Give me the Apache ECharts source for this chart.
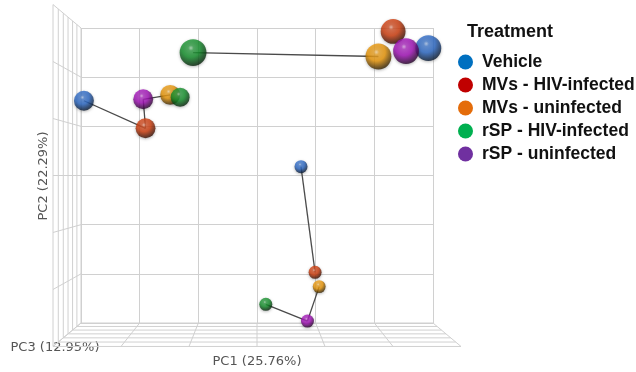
<!DOCTYPE html>
<html>
<head>
<meta charset="utf-8">
<script src="https://cdn.jsdelivr.net/npm/echarts@6/dist/echarts.min.js"></script>
<style>
  html, body { margin: 0; padding: 0; background: #ffffff; }
  #chart { width: 636px; height: 372px; }
</style>
</head>
<body>
<div id="chart"></div>
<script>
// Treatment groups, legend swatches and sphere base colours
const treatments = ['Vehicle', 'MVs - HIV-infected', 'MVs - uninfected', 'rSP - HIV-infected', 'rSP - uninfected'];
const legendColors = ['#0070c0', '#c00000', '#e46c0a', '#00b050', '#7030a0'];
const sphereColors = ['#2a68c6', '#cf3c0c', '#ea9606', '#12902a', '#a20fb8'];

// One entry per sample: treatment index and PCoA coordinates
const sampleTreatment = [3, 1, 2, 4, 0,   0, 4, 2, 3, 1,   0, 1, 2, 3, 4];
const pc1 = [-1.09, 2.32, 2.07, 2.54, 2.92,  -2.95, -1.94, -1.48, -1.31, -1.90,  0.75, 0.99, 1.06, 0.15, 0.86];
const pc2 = [2.50, 2.93, 2.42, 2.53, 2.59,   1.52, 1.55, 1.64, 1.59, 0.96,   0.18, -1.97, -2.26, -2.62, -2.96];
const pc3 = [3.00, 2.15, 2.60, 2.55, 2.60,   0.00, 0.00, 0.00, -0.40, 0.00,  -3.00, -3.00, -3.05, -3.00, -3.00];

// Sample pairs joined by a trajectory line
const links = [[0, 2], [5, 9], [9, 6], [6, 7], [10, 11], [12, 14], [14, 13]];

// Axis range shared by the three principal coordinates
const axisMin = -3, axisMax = 3, axisStep = 1;
const depthSteps = 6;
const frontScale = 1.159;   // perspective enlargement of the nearest box face

function sphereSize(z) { return 13 + (z - axisMin) * 2.3; }

function mix(hex, target, t) {
  const a = parseInt(hex.slice(1), 16);
  const r = (a >> 16) & 255, g = (a >> 8) & 255, b = a & 255;
  const m = c => Math.round(c + (target - c) * t);
  return 'rgb(' + m(r) + ',' + m(g) + ',' + m(b) + ')';
}

function sphereFill(base) {
  return new echarts.graphic.RadialGradient(0.42, 0.33, 0.68, [
    { offset: 0, color: mix(base, 255, 0.6) },
    { offset: 0.15, color: mix(base, 255, 0.15) },
    { offset: 0.5, color: base },
    { offset: 1, color: mix(base, 0, 0.78) }
  ]);
}

// Left wall and floor of the axis box, drawn in perspective from the back wall
function renderBox(params, api) {
  const tl = api.coord([axisMin, axisMax]);
  const br = api.coord([axisMax, axisMin]);
  const vx = (tl[0] + br[0]) / 2, vy = (tl[1] + br[1]) / 2;
  const proj = (p, s) => [vx + (p[0] - vx) * s, vy + (p[1] - vy) * s];
  const children = [];
  const seg = (a, b) => children.push({
    type: 'line',
    shape: { x1: a[0], y1: a[1], x2: b[0], y2: b[1] },
    style: { stroke: '#d0d0d0', lineWidth: 1 }
  });
  for (let k = 0; k <= depthSteps; k++) {
    const s = 1 / (1 - (k / depthSteps) * (1 - 1 / frontScale));
    seg(proj([tl[0], tl[1]], s), proj([tl[0], br[1]], s));
    seg(proj([tl[0], br[1]], s), proj([br[0], br[1]], s));
  }
  for (let v = axisMin; v <= axisMax + 1e-9; v += axisStep) {
    const py = api.coord([axisMin, v])[1];
    seg([tl[0], py], proj([tl[0], py], frontScale));
    const px = api.coord([v, axisMin])[0];
    seg([px, br[1]], proj([px, br[1]], frontScale));
  }
  return { type: 'group', children: children };
}

const scatterSeries = treatments.map((name, t) => {
  const idx = sampleTreatment.map((g, i) => (g === t ? i : -1)).filter(i => i >= 0)
    .sort((a, b) => pc3[a] - pc3[b]);
  return {
    name: name,
    type: 'scatter',
    z: 4,
    symbol: 'circle',
    symbolSize: v => sphereSize(v[2]),
    data: idx.map(i => [pc1[i], pc2[i], pc3[i]]),
    itemStyle: {
      color: sphereFill(sphereColors[t]),
      shadowBlur: 3,
      shadowColor: 'rgba(0,0,0,0.35)',
      shadowOffsetY: 1
    },
    emphasis: { disabled: true },
    animation: false
  };
});

const chart = echarts.init(document.getElementById('chart'), null, { renderer: 'canvas' });
chart.setOption({
  backgroundColor: '#ffffff',
  animation: false,
  grid: { left: 81, right: 203, top: 28, bottom: 49 },
  xAxis: {
    type: 'value', min: axisMin, max: axisMax, interval: axisStep,
    axisLine: { show: false }, axisTick: { show: false }, axisLabel: { show: false },
    splitLine: { show: true, lineStyle: { color: '#d0d0d0', width: 1 } }
  },
  yAxis: {
    type: 'value', min: axisMin, max: axisMax, interval: axisStep,
    axisLine: { show: false }, axisTick: { show: false }, axisLabel: { show: false },
    splitLine: { show: true, lineStyle: { color: '#d0d0d0', width: 1 } }
  },
  legend: {
    orient: 'vertical',
    left: 458, top: 53,
    padding: 0,
    icon: 'circle',
    itemWidth: 23, itemHeight: 15, itemGap: 5,
    selectedMode: false,
    data: treatments.map((n, t) => ({
      name: n,
      itemStyle: { color: legendColors[t], opacity: 1, borderWidth: 0, shadowBlur: 0, shadowOffsetY: 0 }
    })),
    textStyle: {
      fontFamily: '"Liberation Sans", Arial, sans-serif',
      fontWeight: 'bold', fontSize: 17.5, color: '#111'
    }
  },
  graphic: [
    { type: 'text', left: 467, top: 23,
      style: { text: 'Treatment', font: 'bold 18px "Liberation Sans", Arial, sans-serif', fill: '#111' } },
    { type: 'text', x: 257, y: 362,
      style: { text: 'PC1 (25.76%)', font: '13px "DejaVu Sans", sans-serif', fill: '#555',
               textAlign: 'center', textVerticalAlign: 'middle' } },
    { type: 'text', x: 55, y: 348,
      style: { text: 'PC3 (12.95%)', font: '13px "DejaVu Sans", sans-serif', fill: '#555',
               textAlign: 'center', textVerticalAlign: 'middle' } },
    { type: 'text', x: 44, y: 176, rotation: Math.PI / 2,
      style: { text: 'PC2 (22.29%)', font: '13px "DejaVu Sans", sans-serif', fill: '#555',
               textAlign: 'center', textVerticalAlign: 'middle' } }
  ],
  series: [
    { type: 'custom', z: 1, silent: true, renderItem: renderBox, data: [[0, 0]], animation: false },
    {
      type: 'lines', coordinateSystem: 'cartesian2d', z: 3, silent: true,
      lineStyle: { color: '#4a4a4a', width: 1.3, opacity: 1 },
      data: links.map(([a, b]) => ({ coords: [[pc1[a], pc2[a]], [pc1[b], pc2[b]]] }))
    }
  ].concat(scatterSeries)
});
</script>
</body>
</html>
